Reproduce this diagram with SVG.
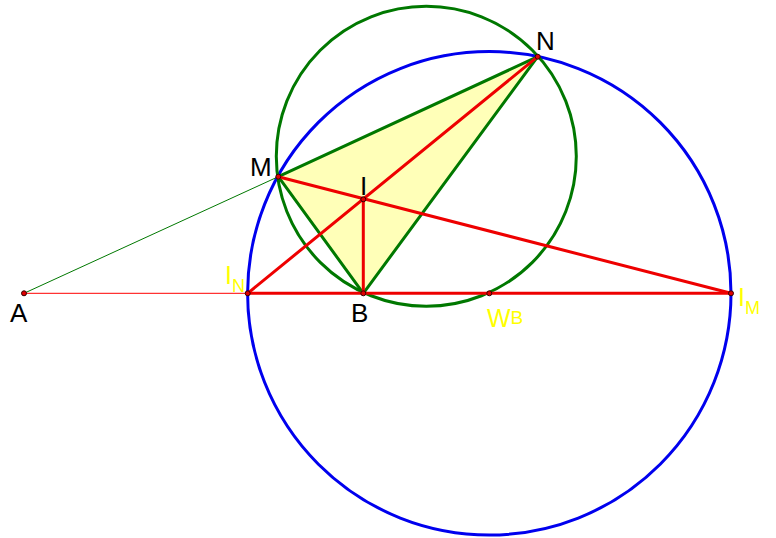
<svg xmlns="http://www.w3.org/2000/svg" width="776" height="538" viewBox="0 0 776 538">
<style>
.lbl{font-family:"Liberation Sans",Arial,sans-serif;font-size:26px;fill:#000}
.ylbl{font-family:"Liberation Sans",Arial,sans-serif;fill:#ffff00}
.thick{stroke-width:3;fill:none;stroke-linecap:round}
.pt{fill:#e00000;stroke:#330000;stroke-width:1}
</style>
<rect width="776" height="538" fill="#fff"/>
<g id="triangle">
<polygon points="278.3,176.7 537.7,56.7 363.3,293.3" fill="#ffffb8" stroke="none"/>
</g>
<g id="circles">
<circle id="blue-circle" cx="489.3" cy="293.3" r="241.7" fill="none" stroke="#0000ee" stroke-width="3"/>
<circle id="green-circle" cx="426.3" cy="156.3" r="150" fill="none" stroke="#007800" stroke-width="3"/>
</g>
<g id="connectors">
<line x1="24" y1="293.3" x2="278.3" y2="176.7" stroke="#007800" stroke-width="1"/>
<line x1="24" y1="293.3" x2="247.7" y2="293.3" stroke="#ff0000" stroke-width="1"/>
<g class="thick" stroke="#007800">
<line x1="278.3" y1="176.7" x2="537.7" y2="56.7"/>
<line x1="537.7" y1="56.7" x2="363.3" y2="293.3"/>
<line x1="278.3" y1="176.7" x2="363.3" y2="293.3"/>
</g>
<g class="thick" stroke="#ee0000">
<line x1="247.7" y1="293.3" x2="731" y2="293.3"/>
<line x1="247.7" y1="293.3" x2="537.7" y2="56.7"/>
<line x1="278.3" y1="176.7" x2="731" y2="293.3"/>
<line x1="363.3" y1="199.3" x2="363.3" y2="293.3"/>
</g>
</g>
<g id="node-A"><circle class="pt" cx="24" cy="293.3" r="2.5"/><text class="lbl" x="10" y="322">A</text></g>
<g id="node-IN"><circle class="pt" cx="247.7" cy="293.3" r="2.5"/><text class="ylbl" x="225" y="284" font-size="25">I<tspan font-size="18" dy="8">N</tspan></text></g>
<g id="node-M"><circle class="pt" cx="278.3" cy="176.7" r="2.5"/><text class="lbl" x="250" y="176">M</text></g>
<g id="node-N"><circle class="pt" cx="537.7" cy="56.7" r="2.5"/><text class="lbl" x="536" y="50">N</text></g>
<g id="node-I"><circle class="pt" cx="363.3" cy="199.3" r="2.5" fill="none"/><text class="lbl" x="360" y="195">I</text></g>
<g id="node-B"><circle class="pt" cx="363.3" cy="293.3" r="2.5"/><text class="lbl" x="351" y="322">B</text></g>
<g id="node-WB"><circle class="pt" cx="489.3" cy="293.3" r="2.5"/><text class="ylbl" x="487" y="327" font-size="25">W<tspan font-size="19" dy="-3">B</tspan></text></g>
<g id="node-IM"><circle class="pt" cx="731" cy="293.3" r="2.5"/><text class="ylbl" x="738" y="306" font-size="25">I<tspan font-size="18" dy="8">M</tspan></text></g>
</svg>
